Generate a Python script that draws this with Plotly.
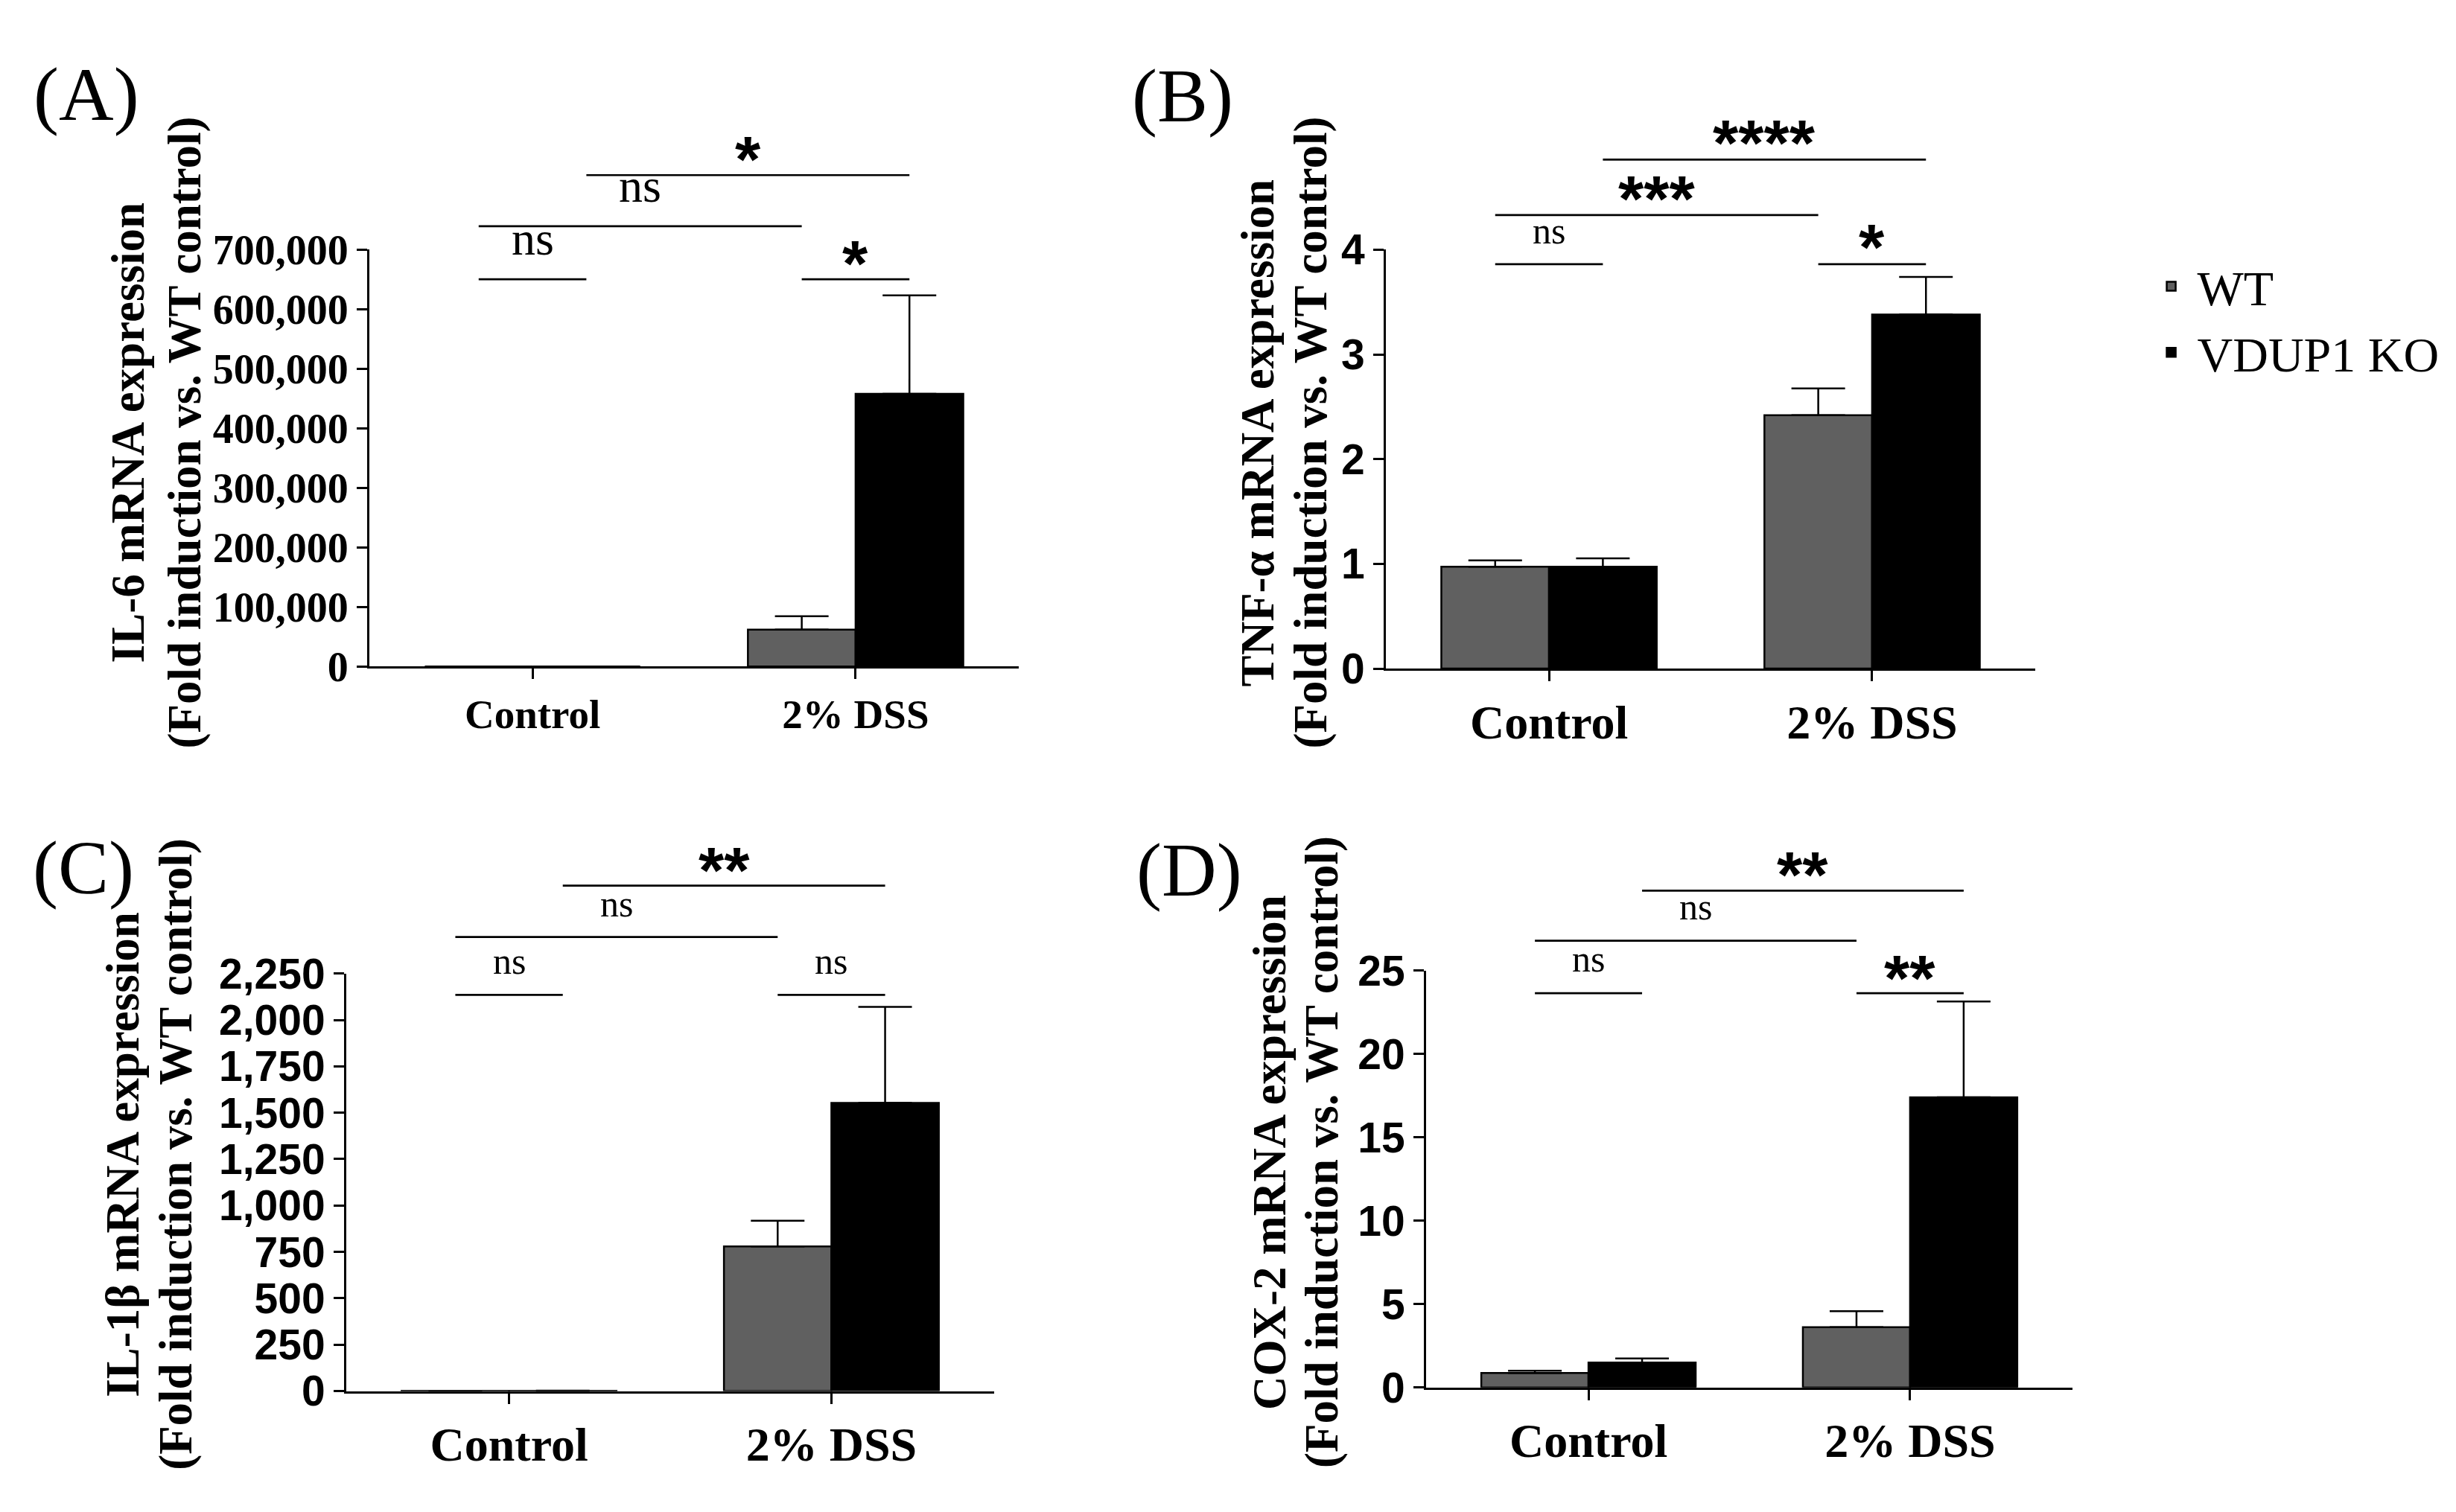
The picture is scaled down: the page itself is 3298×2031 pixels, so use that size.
import plotly.graph_objects as go

W, H = 3298, 2031

# ---------------- data ----------------
groups = ["Control", "2% DSS"]
series_names = ["WT", "VDUP1 KO"]
bar_colors = ["#606060", "#000000"]

# (A) IL-6
il6_wt = [1.0, 61900]
il6_wt_sem = [0.2, 22400]
il6_ko = [1.2, 457800]
il6_ko_sem = [0.4, 165600]
il6_ticks = [0, 100000, 200000, 300000, 400000, 500000, 600000, 700000]
il6_ticktext = ["0", "100,000", "200,000", "300,000", "400,000", "500,000", "600,000", "700,000"]

# (B) TNF-alpha
tnf_wt = [0.972, 2.42]
tnf_wt_sem = [0.062, 0.255]
tnf_ko = [0.972, 3.38]
tnf_ko_sem = [0.08, 0.36]
tnf_ticks = [0, 1, 2, 3, 4]
tnf_ticktext = ["0", "1", "2", "3", "4"]

# (C) IL-1beta
il1b_wt = [1.0, 779]
il1b_wt_sem = [0.3, 139]
il1b_ko = [1.4, 1553]
il1b_ko_sem = [0.5, 517]
il1b_ticks = [0, 250, 500, 750, 1000, 1250, 1500, 1750, 2000, 2250]
il1b_ticktext = ["0", "250", "500", "750", "1,000", "1,250", "1,500", "1,750", "2,000", "2,250"]

# (D) COX-2
cox2_wt = [0.87, 3.61]
cox2_wt_sem = [0.13, 0.96]
cox2_ko = [1.49, 17.4]
cox2_ko_sem = [0.25, 5.75]
cox2_ticks = [0, 5, 10, 15, 20, 25]
cox2_ticktext = ["0", "5", "10", "15", "20", "25"]

# significance: (group_a, series_a, group_b, series_b, line_y, label, label_y)
il6_sig = [(0, 0, 0, 1, 650400, "ns", 710000),
           (0, 0, 1, 0, 739400, "ns", 799000),
           (0, 1, 1, 1, 825200, "*", 875000),
           (1, 0, 1, 1, 650400, "*", 700000)]
tnf_sig = [(0, 0, 0, 1, 3.862, "ns", 4.14),
           (0, 0, 1, 0, 4.33, "***", 4.62),
           (0, 1, 1, 1, 4.86, "****", 5.157),
           (1, 0, 1, 1, 3.862, "*", 4.158)]
il1b_sig = [(0, 0, 0, 1, 2135, "ns", 2294),
            (0, 0, 1, 0, 2447, "ns", 2603),
            (0, 1, 1, 1, 2724, "**", 2883),
            (1, 0, 1, 1, 2135, "ns", 2294)]
cox2_sig = [(0, 0, 0, 1, 23.65, "ns", 25.46),
            (0, 0, 1, 0, 26.8, "ns", 28.6),
            (0, 1, 1, 1, 29.8, "**", 31.6),
            (1, 0, 1, 1, 23.65, "**", 25.4)]

# ---------------- layout geometry (pixels) ----------------
panels = [
    dict(label="(A)", lab_xy=(108, 89), t1="IL-6 mRNA expression", t_x=(164, 240), t_y=559,
         wt=il6_wt, wts=il6_wt_sem, ko=il6_ko, kos=il6_ko_sem,
         ticks=il6_ticks, ticktext=il6_ticktext, sig=il6_sig,
         left=488, right=1360, bottom=883, axtop=305, top=100,
         tickfont=dict(family="Liberation Serif", size=56, color="black"),
         xfont=55, nsfont=64),
    dict(label="(B)", lab_xy=(1580, 91), t1="TNF-α mRNA expression", t_x=(1681, 1752), t_y=559,
         wt=tnf_wt, wts=tnf_wt_sem, ko=tnf_ko, kos=tnf_ko_sem,
         ticks=tnf_ticks, ticktext=tnf_ticktext, sig=tnf_sig,
         left=1853, right=2725, bottom=886, axtop=305, top=90,
         tickfont=dict(family="Liberation Sans", size=57, color="black"),
         xfont=64, nsfont=50),
    dict(label="(C)", lab_xy=(104, 1162), t1="IL-1β mRNA expression", t_x=(157, 228), t_y=1560,
         wt=il1b_wt, wts=il1b_wt_sem, ko=il1b_ko, kos=il1b_ko_sem,
         ticks=il1b_ticks, ticktext=il1b_ticktext, sig=il1b_sig,
         left=457, right=1327, bottom=1888, axtop=1309, top=1120,
         tickfont=dict(family="Liberation Sans", size=57, color="black"),
         xfont=64, nsfont=50),
    dict(label="(D)", lab_xy=(1589, 1165), t1="COX-2 mRNA expression", t_x=(1697, 1767), t_y=1557,
         wt=cox2_wt, wts=cox2_wt_sem, ko=cox2_ko, kos=cox2_ko_sem,
         ticks=cox2_ticks, ticktext=cox2_ticktext, sig=cox2_sig,
         left=1907, right=2775, bottom=1883, axtop=1305, top=1120,
         tickfont=dict(family="Liberation Sans", size=57, color="black"),
         xfont=64, nsfont=50),
]

XR = [-0.505, 1.505]
BARGAP = 1 / 3
OFFS = (1 - BARGAP) / 4
xpos = list(range(len(groups)))

fig = go.Figure()
layout = dict(width=W, height=H, margin=dict(l=0, r=0, t=0, b=0),
              paper_bgcolor="white", plot_bgcolor="rgba(0,0,0,0)",
              barmode="group", bargap=BARGAP, bargroupgap=0,
              showlegend=True)
annotations = []

def px_x(p):
    return p / W

def px_y(p):
    return 1 - p / H

for i, P in enumerate(panels):
    n = i + 1
    m = i + 5
    xa = "x" if n == 1 else f"x{n}"
    ya = "y" if n == 1 else f"y{n}"
    xo, yo = f"x{m}", f"y{m}"
    ymax = P["ticks"][-1]
    ytop = ymax * (P["bottom"] - P["top"]) / (P["bottom"] - P["axtop"])
    xdom = [px_x(P["left"]), px_x(P["right"])]

    for s, (vals, sem) in enumerate([(P["wt"], P["wts"]), (P["ko"], P["kos"])]):
        fig.add_trace(go.Bar(
            x=xpos, y=vals, name=series_names[s], xaxis=xa, yaxis=ya,
            marker=dict(color=bar_colors[s], line=dict(color="black", width=2.5)),
            error_y=dict(type="data", array=sem, arrayminus=[0] * len(sem), symmetric=False,
                         color="black", thickness=2.5, width=36),
            showlegend=(i == 0), legendgroup=series_names[s], hoverinfo="skip"))

    for (ga, sa, gb, sb, ly, lab, lyt) in P["sig"]:
        xa0 = ga + (sa - 0.5) * 2 * OFFS
        xb0 = gb + (sb - 0.5) * 2 * OFFS
        fig.add_trace(go.Scatter(x=[xa0, xb0], y=[ly, ly], mode="lines",
                                 line=dict(color="black", width=2.7),
                                 xaxis=xo, yaxis=yo, showlegend=False, hoverinfo="skip"))
        if lab == "ns":
            f = P["nsfont"]
            font = dict(family="Liberation Serif", size=f, color="black")
            ysh = 0.11 * f
        else:
            f = 88
            font = dict(family="Liberation Sans", size=f, color="black", weight="bold")
            ysh = -0.21 * f
        annotations.append(dict(x=(xa0 + xb0) / 2, y=lyt, xref=xo, yref=yo, text=lab,
                                showarrow=False, font=font, xanchor="center", yanchor="middle",
                                yshift=ysh))

    axis_common = dict(showgrid=False, zeroline=False, showline=True, linecolor="black",
                       linewidth=3, ticks="outside", ticklen=14, tickwidth=3, tickcolor="black",
                       fixedrange=True)
    layout["xaxis" if n == 1 else f"xaxis{n}"] = dict(
        axis_common, domain=xdom, range=XR, anchor=ya, tickmode="array",
        tickvals=xpos, ticktext=groups,
        tickfont=dict(family="Liberation Serif", size=P["xfont"], color="black", weight="bold"))
    layout["yaxis" if n == 1 else f"yaxis{n}"] = dict(
        axis_common, domain=[px_y(P["bottom"]), px_y(P["axtop"])], range=[0, ymax],
        anchor=xa, tickmode="array", tickvals=P["ticks"], ticktext=P["ticktext"],
        tickfont=dict(P["tickfont"], weight="bold"))
    layout[f"xaxis{m}"] = dict(domain=xdom, range=XR, anchor=yo, visible=False, fixedrange=True)
    layout[f"yaxis{m}"] = dict(domain=[px_y(P["bottom"]), px_y(P["top"])], range=[0, ytop],
                               anchor=xo, visible=False, fixedrange=True)

    # panel letter
    annotations.append(dict(x=px_x(P["lab_xy"][0]), y=px_y(P["lab_xy"][1]), xref="paper",
                            yref="paper", text=P["label"], showarrow=False,
                            font=dict(family="Liberation Serif", size=102, color="black"),
                            xanchor="center", yanchor="middle"))
    # y titles (two lines)
    for k, txt in enumerate([P["t1"], "(Fold induction vs. WT control)"]):
        annotations.append(dict(x=px_x(P["t_x"][k]), y=px_y(P["t_y"]), xref="paper",
                                yref="paper", text=txt, showarrow=False, textangle=-90,
                                font=dict(family="Liberation Serif", size=63, color="black",
                                          weight="bold"),
                                xanchor="center", yanchor="middle"))

layout["annotations"] = annotations
layout["legend"] = dict(x=0.871, y=0.85, xanchor="left", yanchor="top",
                        font=dict(family="Liberation Serif", size=66, color="black"),
                        bgcolor="rgba(0,0,0,0)", tracegroupgap=0, itemwidth=60)
fig.update_layout(**layout)
fig.write_html("out.html")
